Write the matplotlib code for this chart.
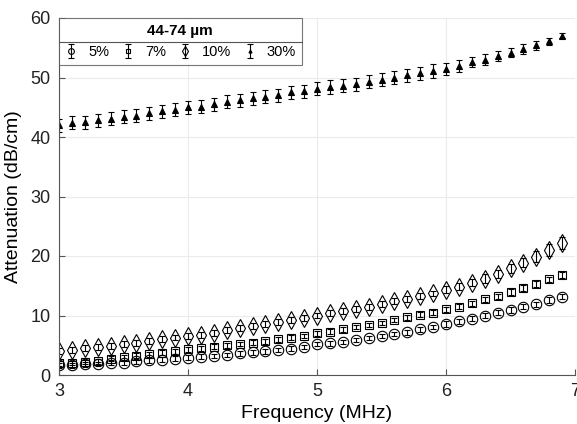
import numpy as np
import matplotlib.pyplot as plt
from matplotlib.lines import Line2D

plt.rcParams['font.family'] = ['Liberation Sans', 'DejaVu Sans']

# Frecuencias (MHz)
freq = [3.0, 3.1, 3.2, 3.3, 3.4, 3.5, 3.6, 3.7, 3.8, 3.9,
        4.0, 4.1, 4.2, 4.3, 4.4, 4.5, 4.6, 4.7, 4.8, 4.9,
        5.0, 5.1, 5.2, 5.3, 5.4, 5.5, 5.6, 5.7, 5.8, 5.9,
        6.0, 6.1, 6.2, 6.3, 6.4, 6.5, 6.6, 6.7, 6.8, 6.9]

# Atenuacion (dB/cm) por concentracion
att_5 = [1.6, 1.6, 1.8, 1.85, 2.1, 2.1, 2.3, 2.45, 2.6, 2.75,
         2.9, 3.1, 3.2, 3.35, 3.65, 3.8, 4.0, 4.2, 4.4, 4.7,
         5.2, 5.3, 5.55, 5.9, 6.2, 6.55, 6.9, 7.2, 7.7, 8.05,
         8.55, 9.0, 9.45, 10.0, 10.5, 10.9, 11.5, 11.9, 12.6, 13.15]
att_7 = [1.95, 2.0, 2.2, 2.3, 2.75, 3.0, 3.25, 3.5, 3.75, 4.0,
         4.3, 4.5, 4.75, 5.0, 5.2, 5.45, 5.65, 6.0, 6.3, 6.55,
         7.0, 7.3, 7.7, 8.05, 8.4, 8.75, 9.25, 9.7, 10.15, 10.5,
         11.05, 11.5, 12.05, 12.7, 13.2, 13.95, 14.6, 15.3, 16.1, 16.8]
att_10 = [4.1, 4.2, 4.5, 4.65, 4.9, 5.2, 5.4, 5.7, 6.05, 6.3,
          6.55, 6.8, 7.1, 7.55, 7.85, 8.2, 8.5, 8.85, 9.2, 9.6,
          10.0, 10.4, 10.75, 11.15, 11.5, 11.9, 12.4, 12.8, 13.2, 13.7,
          14.3, 14.85, 15.5, 16.2, 17.0, 17.9, 18.9, 19.9, 21.0, 22.2]
att_30 = [42.0, 42.4, 42.5, 42.8, 43.1, 43.4, 43.6, 44.0, 44.3, 44.6,
          45.0, 45.1, 45.5, 45.9, 46.2, 46.5, 46.8, 47.0, 47.5, 47.7,
          48.1, 48.4, 48.6, 48.9, 49.3, 49.6, 50.0, 50.4, 50.7, 51.1,
          51.5, 52.0, 52.6, 53.0, 53.6, 54.2, 54.8, 55.4, 56.1, 57.0]

# Desviaciones (estimadas)
err_5 = [0.4] * 30 + [0.45] * 10
err_7 = [0.4] * 30 + [0.45] * 10
err_10 = [0.5] * 30 + [0.6, 0.6, 0.6, 0.7, 0.7, 0.8, 0.8, 0.9, 1.0, 1.0]
err_30 = [1.1] * 30 + [1.0, 1.0, 0.9, 0.9, 0.9, 0.8, 0.8, 0.7, 0.6, 0.4]

labels = ['5%', '7%', '10%', '30%']

fig = plt.figure(figsize=(5.77, 4.24), dpi=100)
ax = fig.add_axes([59/577, 1 - 375/424, 516/577, 357/424])

kw = dict(linestyle='none', color='black', ecolor='black', elinewidth=0.8,
          capsize=2.5, capthick=0.8, markeredgewidth=0.8)
ax.errorbar(freq, att_5, yerr=err_5, marker='o', markersize=7.5,
            markerfacecolor='none', label=labels[0], **kw)
ax.errorbar(freq, att_7, yerr=err_7, marker='s', markersize=6.3,
            markerfacecolor='none', label=labels[1], **kw)
ax.errorbar(freq, att_10, yerr=err_10, marker='d', markersize=9,
            markerfacecolor='none', label=labels[2], **kw)
ax.errorbar(freq, att_30, yerr=err_30, marker='^', markersize=4,
            markerfacecolor='black', label=labels[3], **kw)

ax.set_xlim(3, 7)
ax.set_ylim(0, 60)
ax.set_xticks([3, 4, 5, 6, 7])
ax.set_yticks([0, 10, 20, 30, 40, 50, 60])
ax.grid(True, color='#ebebeb', linewidth=0.8)
ax.set_axisbelow(True)
for s in ['top', 'right']:
    ax.spines[s].set_visible(False)
for s in ['left', 'bottom']:
    ax.spines[s].set_color('#555555')
ax.tick_params(direction='in', length=4, labelsize=13, colors='#222222',
               color='#555555', pad=6)
ax.set_xlabel('Frequency (MHz)', fontsize=14, labelpad=3)
ax.set_ylabel('Attenuation (dB/cm)', fontsize=14, labelpad=6)

leg = ax.legend(loc='upper left', ncol=4, title='44-74 µm', fontsize=10.5,
                title_fontproperties={'weight': 'bold', 'size': 11},
                frameon=True, fancybox=False, edgecolor='#555555',
                handlelength=0.9, handletextpad=0.7, columnspacing=0.85,
                markerscale=0.55, borderaxespad=0.0, borderpad=0.4,
                bbox_to_anchor=(0.0, 1.0))
leg.get_frame().set_linewidth(0.8)

# linea separadora entre titulo y entradas
fig.canvas.draw()
tb = leg.get_title().get_window_extent()
fb = leg.get_frame().get_window_extent()
yline = tb.y0 - 4
inv = fig.transFigure.inverted()
x0, y0 = inv.transform((fb.x0, yline))
x1, _ = inv.transform((fb.x1, yline))
fig.add_artist(Line2D([x0, x1], [y0, y0], color='#555555', linewidth=0.8))

plt.savefig('out.png', dpi=100)
